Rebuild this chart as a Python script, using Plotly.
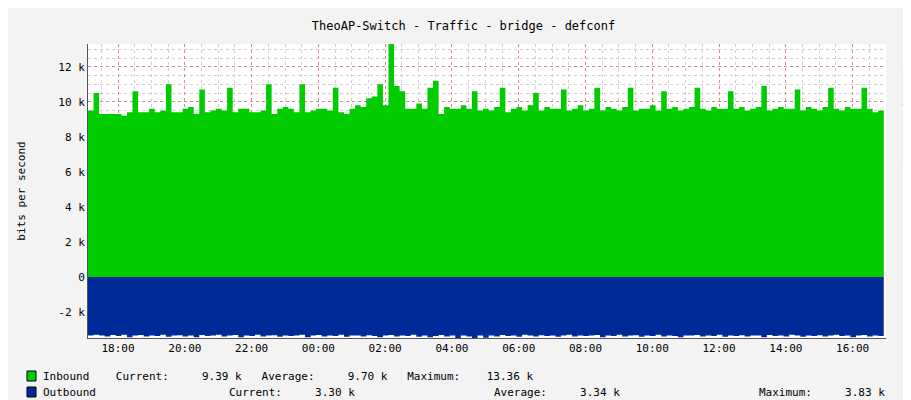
import pandas as pd
import plotly.graph_objects as go

# 10-minute samples, starting 17:06
start_time = "2024-01-01 17:06"
inbound_k = [
    9.5, 10.5, 9.3, 9.3, 9.3, 9.3,
    9.2, 9.4, 10.6, 9.4, 9.4, 9.6,
    9.4, 9.5, 11.0, 9.4, 9.4, 9.6,
    9.7, 9.3, 10.7, 9.4, 9.5, 9.6,
    9.5, 10.8, 9.4, 9.6, 9.6, 9.4,
    9.4, 9.5, 11.0, 9.3, 9.6, 9.7,
    9.6, 9.4, 11.0, 9.4, 9.5, 9.6,
    9.6, 9.5, 10.8, 9.4, 9.3, 9.6,
    9.8, 9.7, 10.2, 10.3, 11.0, 9.8,
    13.36, 10.9, 10.6, 9.6, 9.6, 9.9,
    9.6, 10.8, 11.2, 9.3, 9.7, 9.6,
    9.6, 9.8, 9.6, 10.6, 9.5, 9.6,
    9.5, 9.7, 10.8, 9.4, 9.6, 9.7,
    9.5, 9.8, 10.5, 9.5, 9.7, 9.6,
    9.6, 10.7, 9.5, 9.6, 9.8, 9.5,
    9.6, 10.8, 9.5, 9.7, 9.6, 9.5,
    9.7, 10.8, 9.5, 9.6, 9.6, 9.8,
    9.5, 10.6, 9.6, 9.7, 9.5, 9.6,
    9.7, 10.8, 9.6, 9.5, 9.7, 9.6,
    9.6, 10.6, 9.6, 9.7, 9.5, 9.6,
    9.7, 10.9, 9.5, 9.6, 9.7, 9.6,
    9.6, 10.7, 9.5, 9.7, 9.6, 9.5,
    9.7, 10.8, 9.6, 9.5, 9.7, 9.6,
    9.6, 10.8, 9.6, 9.4, 9.5, 9.39,
]
outbound_k = [
    3.35, 3.30, 3.35, 3.40, 3.32, 3.38,
    3.30, 3.45, 3.35, 3.32, 3.40, 3.35,
    3.38, 3.30, 3.42, 3.35, 3.33, 3.40,
    3.35, 3.45, 3.32, 3.38, 3.35, 3.30,
    3.40, 3.35, 3.32, 3.45, 3.35, 3.38,
    3.30, 3.40, 3.35, 3.33, 3.42, 3.35,
    3.38, 3.35, 3.30, 3.45, 3.35, 3.32,
    3.40, 3.35, 3.38, 3.30, 3.42, 3.35,
    3.35, 3.40, 3.33, 3.38, 3.45, 3.35,
    3.32, 3.40, 3.35, 3.38, 3.30, 3.42,
    3.35, 3.45, 3.38, 3.32, 3.40, 3.35,
    3.83, 3.35, 3.40, 3.50, 3.35, 3.48,
    3.35, 3.40, 3.32, 3.38, 3.35, 3.42,
    3.30, 3.35, 3.40, 3.33, 3.38, 3.35,
    3.42, 3.35, 3.30, 3.40, 3.35, 3.38,
    3.35, 3.32, 3.45, 3.35, 3.38, 3.30,
    3.40, 3.35, 3.33, 3.42, 3.35, 3.38,
    3.30, 3.40, 3.35, 3.38, 3.45, 3.35,
    3.35, 3.32, 3.40, 3.35, 3.38, 3.30,
    3.42, 3.35, 3.38, 3.33, 3.40, 3.35,
    3.35, 3.45, 3.32, 3.38, 3.35, 3.40,
    3.30, 3.35, 3.42, 3.35, 3.38, 3.33,
    3.40, 3.35, 3.30, 3.38, 3.35, 3.45,
    3.35, 3.32, 3.40, 3.35, 3.38, 3.30,
]
y_tickvals = [-2000, 0, 2000, 4000, 6000, 8000, 10000, 12000]
y_ticktext = ["-2 k", "0", "2 k", "4 k", "6 k", "8 k", "10 k", "12 k"]
x_tickvals = ["2024-01-01 18:00", "2024-01-01 20:00", "2024-01-01 22:00", "2024-01-02 00:00",
              "2024-01-02 02:00", "2024-01-02 04:00", "2024-01-02 06:00", "2024-01-02 08:00",
              "2024-01-02 10:00", "2024-01-02 12:00", "2024-01-02 14:00", "2024-01-02 16:00"]
x_ticktext = ["18:00", "20:00", "22:00", "00:00", "02:00", "04:00", "06:00", "08:00",
              "10:00", "12:00", "14:00", "16:00"]

times = pd.date_range(start_time, periods=len(inbound_k), freq="10min")
inbound = [v * 1000 for v in inbound_k]
outbound = [-v * 1000 for v in outbound_k]

MONO = "DejaVu Sans Mono"
L, R, T, B = 80, 33, 36, 70
PW, PH = 911 - L - R, 400 - T - B


def px(x):
    return (x - L) / PW


def py(y):
    return (400 - B - y) / PH


fig = go.Figure()
fig.add_trace(go.Scatter(x=times, y=inbound, mode="lines", line=dict(width=0, shape="hv"),
                         fill="tozeroy", fillcolor="#00CC00", hoverinfo="skip"))
fig.add_trace(go.Scatter(x=times, y=outbound, mode="lines", line=dict(width=0, shape="hv"),
                         fill="tozeroy", fillcolor="#002A97", hoverinfo="skip"))

fig.update_xaxes(range=[times[0], pd.Timestamp("2024-01-02 17:00")], automargin=False,
                 tickvals=x_tickvals, ticktext=x_ticktext, ticks="", showline=True,
                 linecolor="#555555", showgrid=True, gridcolor="rgba(230,80,80,0.55)",
                 griddash="dot", gridwidth=1,
                 minor=dict(dtick=30 * 60 * 1000, showgrid=True, gridcolor="#d0d0d0", griddash="dot"),
                 tickfont=dict(family=MONO, size=11, color="#000"), zeroline=False)
fig.update_yaxes(range=[-3490, 13300], tickvals=y_tickvals, ticktext=y_ticktext, ticks="",
                 automargin=False, showline=True, linecolor="#555555", showgrid=True,
                 gridcolor="rgba(230,80,80,0.55)", griddash="dot",
                 minor=dict(dtick=500, showgrid=True, gridcolor="#d0d0d0", griddash="dot"),
                 tickfont=dict(family=MONO, size=11, color="#000"), zeroline=False,
                 title=dict(text="bits per second", font=dict(family=MONO, size=11, color="#000"),
                            standoff=30))

fig.update_layout(
    width=911, height=400, showlegend=False,
    paper_bgcolor="#F3F3F3", plot_bgcolor="#FFFFFF",
    margin=dict(l=L, r=R, t=T, b=B, autoexpand=False),
    title=dict(text="TheoAP-Switch - Traffic - bridge - defconf", x=0.5, xanchor="center",
               y=0.965, font=dict(family=MONO, size=12, color="#000")),
)

# side credit
fig.add_annotation(text="RRDTOOL / TOBI OETIKER", x=px(903), y=py(60), xref="paper", yref="paper",
                   textangle=90, showarrow=False,
                   font=dict(family=MONO, size=7, color="#999999"))

# legend rows: (colour, row y px, [(x px, text), ...])
legend_rows = [
    ("#00CC00", 368, [(33, "Inbound    Current:     9.39 k   Average:     9.70 k   Maximum:    13.36 k")]),
    ("#002A97", 384, [(33, "Outbound"), (219, "Current:     3.30 k"),
                      (484, "Average:     3.34 k"), (749, "Maximum:     3.83 k")]),
]
for color, ypx, parts in legend_rows:
    fig.add_shape(type="rect", xref="paper", yref="paper", x0=px(19), x1=px(28),
                  y0=py(ypx + 5), y1=py(ypx - 5), fillcolor=color, line=dict(color="#000", width=1))
    for xpx, text in parts:
        fig.add_annotation(text=text.replace(" ", "&nbsp;"), x=px(xpx), y=py(ypx),
                           xref="paper", yref="paper", xanchor="left", yanchor="middle",
                           showarrow=False, font=dict(family=MONO, size=11, color="#000"))

fig.write_html("out.html")
